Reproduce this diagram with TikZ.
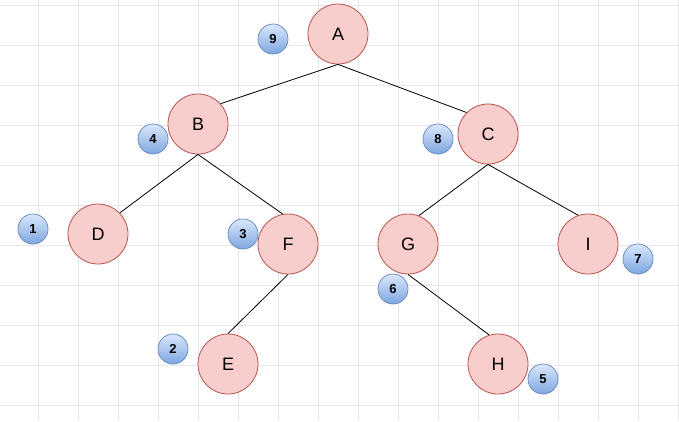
\documentclass[tikz,border=0pt]{standalone}
\usepackage{fontspec}
\setmainfont{Liberation Sans}
\definecolor{NodePink}{HTML}{F8CECC}
\definecolor{NodeRed}{HTML}{B85450}
\definecolor{OrdTop}{HTML}{DAE8FC}
\definecolor{OrdBottom}{HTML}{7EA6E0}
\definecolor{OrdLine}{HTML}{6C8EBF}
\definecolor{GridGray}{HTML}{E8E8E8}
\begin{document}
\begin{tikzpicture}[x=1pt, y=-1pt,
    treenode/.style={draw=NodeRed, fill=NodePink, circle, line width=0.8pt, minimum size=60pt, inner sep=0pt, font=\fontsize{18}{18}\selectfont},
    ordnum/.style={draw=OrdLine, circle, line width=0.8pt, top color=OrdTop, bottom color=OrdBottom, minimum size=30pt, inner sep=0pt, font=\bfseries\fontsize{13}{13}\selectfont},
    treeline/.style={draw=black, line width=0.8pt}]
    \useasboundingbox (0,0) rectangle (679,421);
    % Grid
    \foreach \gx in {38,78,...,678} \draw[GridGray, line width=0.7pt] (\gx,0) -- (\gx,421);
    \foreach \gy in {5,45,...,405} \draw[GridGray, line width=0.7pt] (0,\gy) -- (679,\gy);
    % Tree
    \node[treenode] (A) at (338,34) {A};
    \node[treenode] (B) at (198,124) {B};
    \node[treenode] (C) at (488,134) {C};
    \node[treenode] (D) at (98,234) {D};
    \node[treenode] (F) at (288,244) {F};
    \node[treenode] (E) at (228,364) {E};
    \node[treenode] (G) at (408,244) {G};
    \node[treenode] (I) at (588,244) {I};
    \node[treenode] (H) at (498,364) {H};
    \draw[treeline] (A.south) -- (B.42);
    \draw[treeline] (A.south) -- (C.135);
    \draw[treeline] (B.south) -- (D.44);
    \draw[treeline] (B.south) -- (F.100);
    \draw[treeline] (F.south) -- (E.north);
    \draw[treeline] (C.south) -- (G.69);
    \draw[treeline] (C.south) -- (I.109);
    \draw[treeline] (G.south) -- (H.107);
    % Visit order
    \node[ordnum] (n1) at (33,229) {1};
    \node[ordnum] (n2) at (173,349) {2};
    \node[ordnum] (n3) at (243,234) {3};
    \node[ordnum] (n4) at (153,139) {4};
    \node[ordnum] (n5) at (543,379) {5};
    \node[ordnum] (n6) at (393,289) {6};
    \node[ordnum] (n7) at (638,259) {7};
    \node[ordnum] (n8) at (438,139) {8};
    \node[ordnum] (n9) at (273,39) {9};
\end{tikzpicture}
\end{document}
